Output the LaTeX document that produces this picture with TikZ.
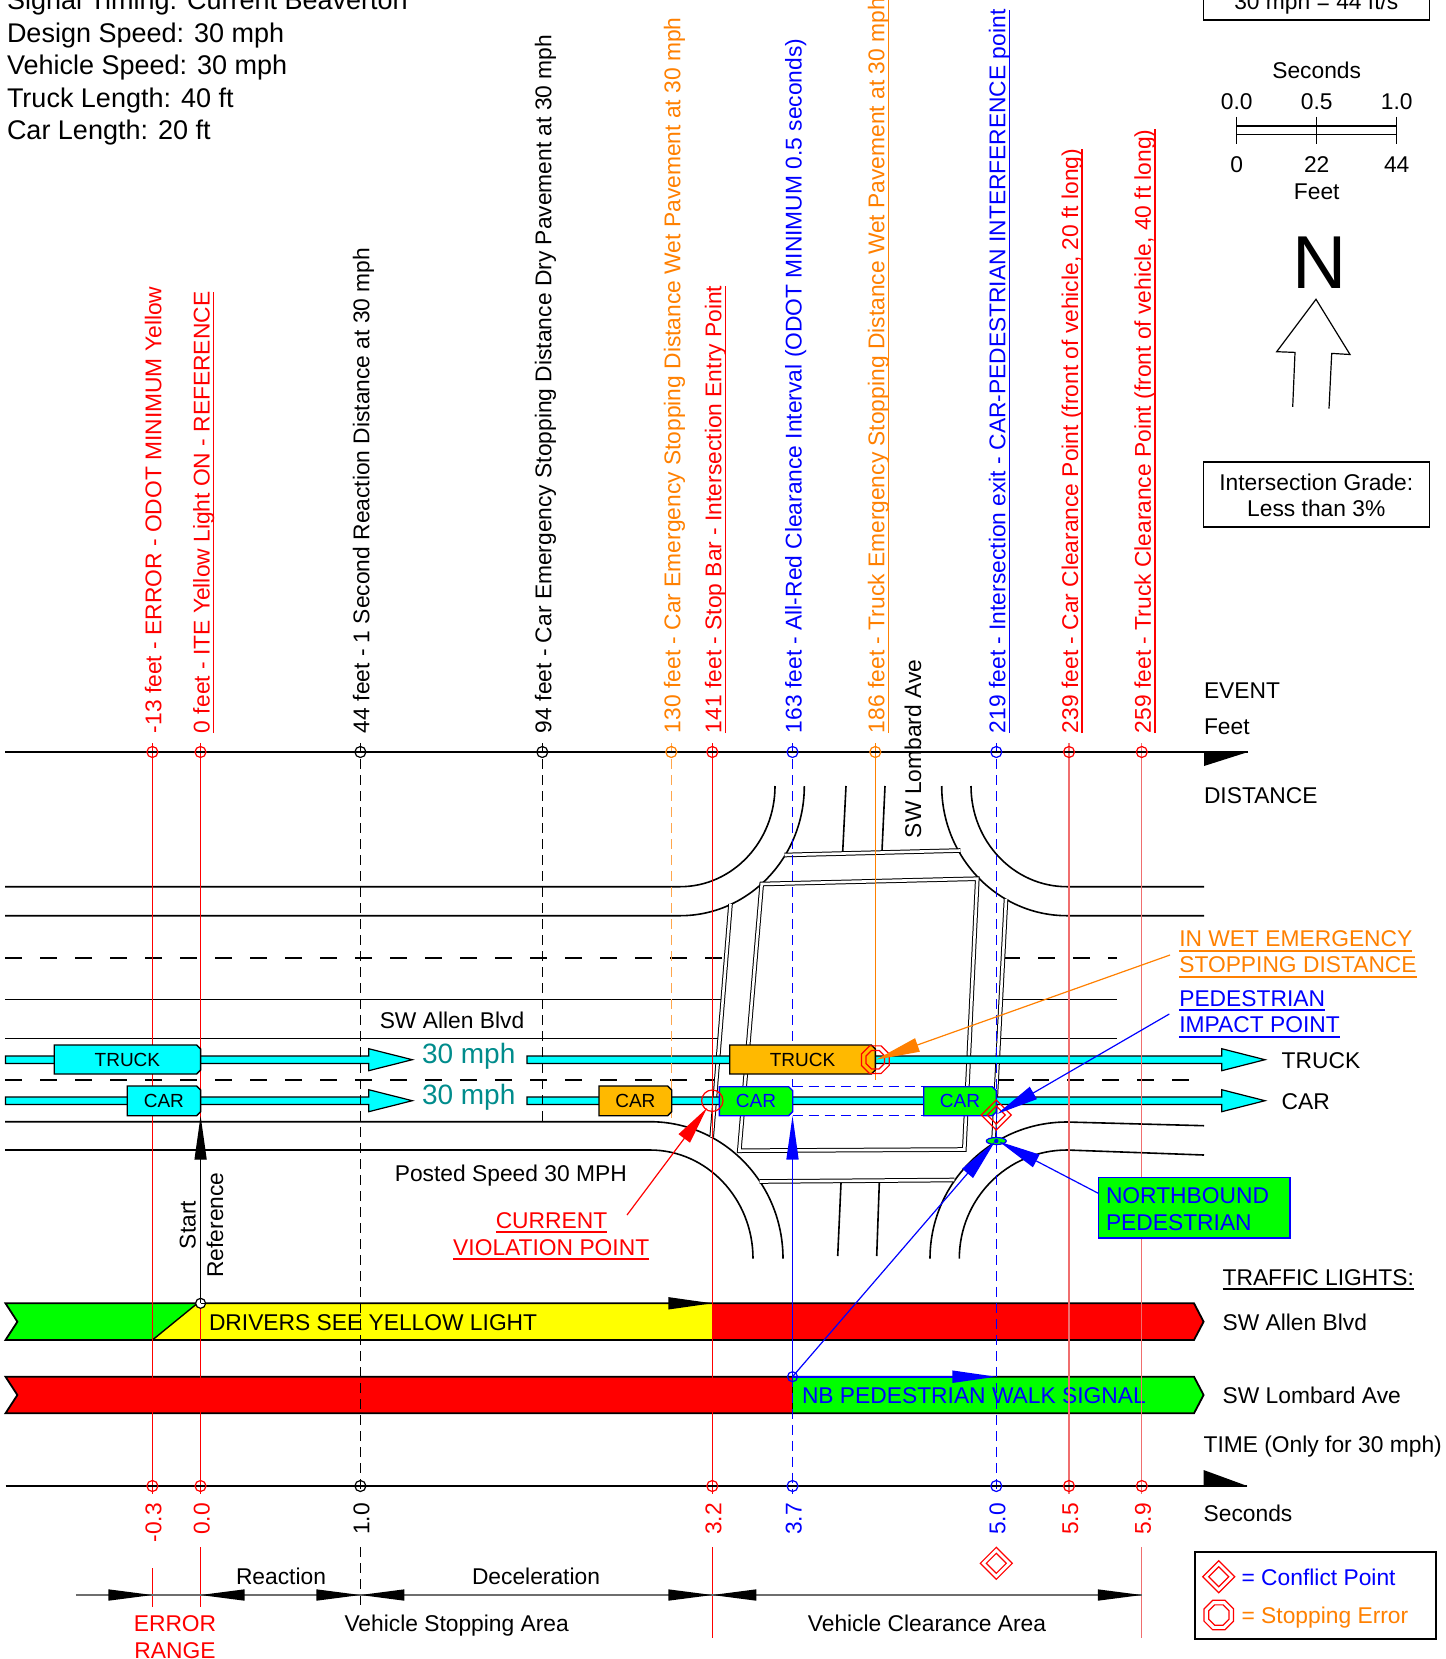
\documentclass[tikz,border=0pt]{standalone}
\usepackage{fontspec}
\setmainfont{Liberation Sans}
\usetikzlibrary{arrows.meta}
\definecolor{orng}{RGB}{255,128,0}
\definecolor{lred}{RGB}{240,110,110}
\definecolor{cyn}{RGB}{0,255,255}
\definecolor{vorange}{RGB}{255,185,0}
\definecolor{grn}{RGB}{0,255,0}
\definecolor{yel}{RGB}{255,255,0}
\definecolor{teal2}{RGB}{0,140,140}
\definecolor{dimgray}{RGB}{110,110,110}
\newcommand\myul[1]{\setbox0\hbox{#1}\rlap{\rule[-2.4pt]{\wd0}{0.8pt}}\box0}
\newcommand\mkocta[3]{\draw[red, line width=0.6pt] (#1,#2) +(22.5:#3) -- +(67.5:#3) -- +(112.5:#3) -- +(157.5:#3) -- +(202.5:#3) -- +(247.5:#3) -- +(292.5:#3) -- +(337.5:#3) -- cycle;}
\newcommand\mkdiam[3]{\draw[red, line width=0.6pt] (#1,#2) +(0,-#3) -- +(#3,0) -- +(0,#3) -- +(-#3,0) -- cycle;}
\newcommand\trR[3]{\fill[#3] (#1,#2) -- ++(-44,-5.7) -- ++(0,11.4) -- cycle;}
\newcommand\trL[3]{\fill[#3] (#1,#2) -- ++(44,-5.7) -- ++(0,11.4) -- cycle;}
\newcommand\lanearrow[4]{\draw[fill=cyn, line width=0.6pt] (#1,#4-3.7) -- (#2,#4-3.7) -- (#2,#4-11) -- (#3,#4) -- (#2,#4+11) -- (#2,#4+3.7) -- (#1,#4+3.7) -- cycle;}
\newcommand\vehbox[9]{\filldraw[fill=#6, draw=#7, line width=0.7pt] (#2,#4) -- (#3-4,#4) -- (#3,#4+4) -- (#3,#5-4) -- (#3-4,#5) -- (#2,#5) -- cycle;
  \node[boxtxt, text=#8] (#1) at ({(#2+#3)/2},{(#4+#5)/2}) {#9};}
\begin{document}
\begin{tikzpicture}[x=0.5pt,y=-0.5pt,
  every node/.style={inner sep=0pt, outer sep=0pt},
  lbl/.style={font=\fontsize{11.4}{13.8}\selectfont},
  hdr/.style={font=\fontsize{13.5}{16.2}\selectfont},
  boxtxt/.style={font=\fontsize{9.5}{11}\selectfont},
  mphtxt/.style={font=\fontsize{14}{16}\selectfont, text=teal2},
  road/.style={line width=0.8pt},
  dbl/.style={draw=black, line width=0.5pt, double=white, double distance=1.3pt},
  lanedash/.style={line width=0.8pt, dash pattern=on 8.5pt off 9pt},
  ev/.style={line width=0.6pt},
  vdash/.style={dash pattern=on 5pt off 3pt},
  tipA/.style={-{Triangle[length=22pt,width=6pt]}},
  tipB/.style={-{Triangle[length=21pt,width=7pt]}}]
\useasboundingbox (0,0) rectangle (1445,1659);
\clip (0,0) rectangle (1445,1659);
\fill[white] (0,0) rectangle (1445,1659);

% ---------------- header ----------------
\node[hdr, anchor=base west] (t0) at (7,10) {Signal Timing: Current Beaverton};
\node[hdr, anchor=base west] (t1) at (7,42.5) {Design Speed: 30 mph};
\node[hdr, anchor=base west] (t2) at (7,75) {Vehicle Speed: 30 mph};
\node[hdr, anchor=base west] (t3) at (7,107.5) {Truck Length: 40 ft};
\node[hdr, anchor=base west] (t4) at (7,140) {Car Length: 20 ft};

% ---------------- top right: scale, north ----------------
\draw[line width=0.8pt] (1203.3,-20) rectangle (1429.3,20);
\node[lbl, anchor=base] (spd) at (1316.3,10) {30 mph = 44 ft/s};
\node[lbl, anchor=base] (sbs) at (1316.7,79) {Seconds};
\node[lbl, anchor=base] (sb00) at (1236.7,110) {0.0};
\node[lbl, anchor=base] (sb05) at (1316.7,110) {0.5};
\node[lbl, anchor=base] (sb10) at (1396.7,110) {1.0};
\draw[line width=0.6pt] (1236.7,126) -- (1396.7,126) (1236.7,134.5) -- (1396.7,134.5);
\draw[line width=0.6pt] (1236.7,117) -- (1236.7,144) (1316.7,117) -- (1316.7,144) (1396.7,117) -- (1396.7,144);
\node[lbl, anchor=base] (sf0) at (1236.7,172) {0};
\node[lbl, anchor=base] (sf22) at (1316.7,172) {22};
\node[lbl, anchor=base] (sf44) at (1396.7,172) {44};
\node[lbl, anchor=base] (sff) at (1316.7,199.5) {Feet};
\node[font=\fontsize{37.5}{40}\selectfont, anchor=base] (north) at (1320,288) {N};
\draw[line width=0.6pt] (1292.7,406.9) -- (1295,352.4) -- (1276.7,351.7) -- (1316,299.3) -- (1350,354.5) -- (1331.7,353.4) -- (1329,408.6);
\draw[line width=0.8pt] (1203.3,462) rectangle (1429.3,527);
\node[lbl, anchor=base] (grade1) at (1316.3,490) {Intersection Grade:};
\node[lbl, anchor=base] (grade2) at (1316.3,516) {Less than 3\%};

% ---------------- roads ----------------
\draw[road] (5,886.7) -- (680,886.7) .. controls (732.5,886.7) and (775,841.6) .. (775,786);
\draw[road] (5,915.7) -- (680,915.7) .. controls (748.7,915.7) and (804.3,857.6) .. (804.3,786);
\draw[road] (971,786) .. controls (971,841.6) and (1014,886.7) .. (1067,886.7) -- (1204,886.7);
\draw[road] (941.7,786) .. controls (941.7,857.6) and (997.8,915.7) .. (1067,915.7) -- (1204,915.7);
\draw[road] (5,1121.7) -- (650,1121.7) .. controls (723.5,1121.7) and (783,1183) .. (783,1258.7);
\draw[road] (5,1150) -- (650,1150) .. controls (706.9,1150) and (753,1198.7) .. (753,1258.7);
\draw[road] (930,1258.7) .. controls (930,1183.2) and (991.3,1122) .. (1067,1122) -- (1204,1125.7);
\draw[road] (959.3,1258.7) .. controls (959.3,1198.7) and (1007.5,1150) .. (1067,1150) -- (1204,1155);
\draw[lanedash] (5,958) -- (726,958);
\draw[road] (5,999.3) -- (722.8,999.3);
\draw[road] (5,1038.3) -- (719.6,1038.3);
\draw[lanedash] (5,1080) -- (716,1080);
\draw[lanedash] (1003,958) -- (1117,958);
\draw[road] (1001,999.3) -- (1117,999.3);
\draw[road] (999,1038.3) -- (1117,1038.3);
\draw[lanedash] (997,1080) -- (1204,1080);
\draw[road] (846,786) -- (842.7,851.5);
\draw[road] (885,786) -- (882,850.7);
\draw[road] (841,1183) -- (837.7,1256);
\draw[road] (879.3,1183) -- (876.7,1256);
\draw[dbl] (784.5,855) -- (960.5,850.5);
\draw[dbl] (759.6,1181.5) -- (954.3,1180);
\draw[dbl] (730.5,904) -- (711.7,1137);
\draw[dbl] (1006,899) -- (993.5,1141);
\draw[dbl] (761.7,884) -- (977.3,878.7) -- (964.3,1149.5) -- (739.3,1150.7) -- cycle;

% ---------------- traffic light bars ----------------
\fill[grn] (5.5,1303.3) -- (197.4,1303.3) -- (152.4,1340) -- (5.5,1340) -- (17.4,1321.7) -- cycle;
\fill[yel] (197.4,1303.3) -- (712.3,1303.3) -- (712.3,1340) -- (152.4,1340) -- cycle;
\fill[red] (712.3,1303.3) -- (1194,1303.3) -- (1203.6,1321.7) -- (1194,1340) -- (712.3,1340) -- cycle;
\draw[line width=0.9pt] (5.5,1303.3) -- (1194,1303.3) -- (1203.6,1321.7) -- (1194,1340) -- (5.5,1340) -- (17.4,1321.7) -- cycle;
\draw[line width=0.7pt] (152.4,1340) -- (197.4,1303.3);
\fill[red] (5.5,1376.7) -- (792.5,1376.7) -- (792.5,1413.3) -- (5.5,1413.3) -- (17.4,1395) -- cycle;
\fill[grn] (792.5,1376.7) -- (1194,1376.7) -- (1203.6,1395) -- (1194,1413.3) -- (792.5,1413.3) -- cycle;
\draw[line width=0.9pt] (5.5,1376.7) -- (1194,1376.7) -- (1203.6,1395) -- (1194,1413.3) -- (5.5,1413.3) -- (17.4,1395) -- cycle;
\draw[line width=0.7pt] (792.5,1376.7) -- (792.5,1413.3);
\node[lbl, anchor=base west] (yellowtxt) at (209,1330) {DRIVERS SEE YELLOW LIGHT};
\node[lbl, anchor=base west, text=blue] (walktxt) at (802,1403) {NB PEDESTRIAN WALK SIGNAL};

% ---------------- lane arrows ----------------
\lanearrow{5.5}{368.7}{412.3}{1059.7}
\lanearrow{527}{1221.7}{1265}{1059.7}
\lanearrow{5.5}{368.7}{412.3}{1100.7}
\lanearrow{527}{1221.7}{1265}{1100.7}
\node[mphtxt] (mph1) at (468.7,1056.7) {30 mph};
\node[mphtxt] (mph2) at (468.7,1097.7) {30 mph};

% ---------------- event lines ----------------
\draw[red, ev] (152.4,743) -- (152.4,1494) (152.4,1568) -- (152.4,1607);
\draw[red, ev] (200.5,743) -- (200.5,1494) (200.5,1547) -- (200.5,1607);
\draw[black, ev, vdash] (360.4,743) -- (360.4,1494) (360.4,1547) -- (360.4,1607);
\draw[black, ev, vdash] (542.3,743) -- (542.3,1122);
\draw[orng!70, ev, vdash] (671.3,743) -- (671.3,1118);
\draw[red, ev] (712.3,743) -- (712.3,1494) (712.3,1547) -- (712.3,1638);
\draw[blue, ev, vdash] (792.5,743) -- (792.5,1086.7) (792.5,1376.7) -- (792.5,1494);
\draw[orng, ev] (875.3,743) -- (875.3,1080);
\draw[blue, ev, vdash] (996.3,743) -- (996.3,1494);
\draw[lred, ev] (1069,743) -- (1069,1494);
\draw[lred, ev] (1141.8,743) -- (1141.8,1494) (1141.8,1547) -- (1141.8,1638);

% ---------------- axes ----------------
\draw[line width=1pt] (5,752) -- (1248,752);
\fill (1204,752) -- (1248,752) -- (1204,766) -- cycle;
\draw[line width=1pt] (5.5,1486) -- (1247,1486);
\fill (1203.6,1470) -- (1247.3,1486) -- (1203.6,1486) -- cycle;
\foreach \xx/\cc in {152.4/red,200.5/red,360.4/black,542.3/black,671.3/orng,712.3/red,792.5/blue,875.3/orng,996.3/blue,1069/red,1141.8/red}
  \draw[\cc, line width=0.6pt] (\xx,752) circle[radius=5.5];
\foreach \xx/\cc in {152.4/red,200.5/red,360.4/black,712.3/red,792.5/blue,996.3/blue,1069/red,1141.8/red}
  \draw[\cc, line width=0.6pt] (\xx,1486) circle[radius=5.5];

% ---------------- dimension line ----------------
\draw[dimgray, line width=1pt] (75.8,1595) -- (1141.8,1595);
\trR{152.4}{1595}{black}
\trL{200.5}{1595}{black}
\trR{360.4}{1595}{black}
\trL{360.4}{1595}{black}
\trR{712.3}{1595}{black}
\trL{712.3}{1595}{black}
\trR{1141.8}{1595}{black}

% ---------------- vehicles ----------------
\vehbox{truckA}{54.2}{200.6}{1045}{1074}{cyn}{black}{black}{TRUCK}
\vehbox{carA}{127.2}{200.6}{1086}{1115.7}{cyn}{black}{black}{CAR}
\vehbox{carB}{599}{671.7}{1086}{1115.7}{vorange}{black}{black}{CAR}
\vehbox{truckB}{729.7}{875.3}{1045}{1074}{vorange}{black}{black}{TRUCK}
\vehbox{carC}{719.3}{792.7}{1086.7}{1115.7}{grn}{blue}{blue}{CAR}
\vehbox{carD}{923.7}{996.3}{1086.7}{1115.7}{grn}{blue}{blue}{CAR}
\draw[blue, ev, vdash] (792.7,1086.7) -- (923.7,1086.7) (792.7,1115.7) -- (923.7,1115.7);

% ---------------- markers ----------------
\draw[red, line width=0.6pt] (712.3,1100.7) circle[radius=10.7];
\mkocta{875.3}{1059.7}{15}
\mkocta{875.3}{1059.7}{10}
\mkdiam{996.3}{1115}{15}
\mkdiam{996.3}{1115}{9}
\mkdiam{996.3}{1563.3}{16}
\mkdiam{996.3}{1563.3}{10}
\filldraw[fill=grn, draw=blue, line width=0.6pt] (996.3,1141) ellipse [x radius=10, y radius=3.5];
\fill[blue] (996.3,1141) circle[radius=2.2];
\filldraw[fill=white, draw=black, line width=0.6pt] (200.6,1303.3) circle[radius=5];
\draw[blue, line width=0.6pt] (792.5,1376.7) circle[radius=5];

% ---------------- connectors ----------------
\coordinate (startref) at (200.6,1303.3);
\coordinate (carArear) at (200.6,1115.7);
\coordinate (walkstart) at (792.5,1376.7);
\coordinate (walkend) at (996.3,1376.7);
\coordinate (yellowend) at (712.3,1303.3);
\coordinate (carCbottom) at (792.5,1115.7);
\coordinate (ped) at (995,1141.5);
\coordinate (ped2) at (999,1141.5);
\coordinate (conflict) at (997,1114);
\coordinate (truckfront) at (876,1059.7);
\coordinate (viol) at (707,1108);
\coordinate (violtxt) at (627,1215);
\coordinate (wetL) at (1170,955);
\coordinate (impL) at (1169.3,1014);
\coordinate (nbL) at (1098.3,1193.3);
\draw[line width=0.7pt, tipA] (startref) -- (yellowend);
\draw[line width=0.7pt, tipA] (startref) -- (carArear);
\draw[blue, line width=1pt, tipA] (walkstart) -- (walkend);
\draw[blue, line width=0.8pt, tipA] (walkstart) -- (carCbottom);
\draw[blue, line width=0.6pt, tipB] (walkstart) -- (ped);
\draw[blue, line width=0.6pt, tipB] (nbL) -- (ped2);
\draw[blue, line width=0.6pt, tipB] (impL) -- (conflict);
\draw[orng, line width=0.6pt, -{Triangle[length=22pt,width=7pt]}] (wetL) -- (truckfront);
\draw[red, line width=0.6pt, -{Triangle[length=19pt,width=7pt]}] (violtxt) -- (viol);

% ---------------- top rotated labels ----------------
\node[lbl, red, rotate=90, anchor=base west] (lm13) at (161.4,733) {-13 feet - ERROR - ODOT MINIMUM Yellow};
\node[lbl, red, rotate=90, anchor=base west] (l0) at (209.5,733) {\myul{0 feet - ITE Yellow Light ON - REFERENCE}};
\node[lbl, black, rotate=90, anchor=base west] (l44) at (369.4,733) {44 feet - 1 Second Reaction Distance at 30 mph};
\node[lbl, black, rotate=90, anchor=base west] (l94) at (551.3,733) {94 feet - Car Emergency Stopping Distance Dry Pavement at 30 mph};
\node[lbl, orng, rotate=90, anchor=base west] (l130) at (680.3,733) {130 feet - Car Emergency Stopping Distance Wet Pavement at 30 mph};
\node[lbl, red, rotate=90, anchor=base west] (l141) at (721.3,733) {\myul{141 feet - Stop Bar - Intersection Entry Point}};
\node[lbl, blue, rotate=90, anchor=base west] (l163) at (801.5,733) {163 feet - All-Red Clearance Interval (ODOT MINIMUM 0.5 seconds)};
\node[lbl, orng, rotate=90, anchor=base west] (l186) at (884.3,733) {\myul{186 feet - Truck Emergency Stopping Distance Wet Pavement at 30 mph}};
\node[lbl, blue, rotate=90, anchor=base west] (l219) at (1005.3,733) {\myul{219 feet - Intersection exit - CAR-PEDESTRIAN INTERFERENCE point}};
\node[lbl, red, rotate=90, anchor=base west] (l239) at (1078,733) {\myul{239 feet - Car Clearance Point (front of vehicle, 20 ft long)}};
\node[lbl, red, rotate=90, anchor=base west] (l259) at (1150.8,733) {\myul{259 feet - Truck Clearance Point (front of vehicle, 40 ft long)}};
\node[lbl, rotate=90, anchor=base west] (lombard) at (921,838) {SW Lombard Ave};

% ---------------- time labels ----------------
\node[lbl, red, rotate=90, anchor=base east] (tm03) at (161.4,1503) {-0.3};
\node[lbl, red, rotate=90, anchor=base east] (t00) at (209.5,1503) {0.0};
\node[lbl, black, rotate=90, anchor=base east] (t10) at (369.4,1503) {1.0};
\node[lbl, red, rotate=90, anchor=base east] (t32) at (721.3,1503) {3.2};
\node[lbl, blue, rotate=90, anchor=base east] (t37) at (801.5,1503) {3.7};
\node[lbl, blue, rotate=90, anchor=base east] (t50) at (1005.3,1503) {5.0};
\node[lbl, red, rotate=90, anchor=base east] (t55) at (1078,1503) {5.5};
\node[lbl, red, rotate=90, anchor=base east] (t59) at (1150.8,1503) {5.9};

% ---------------- right column labels ----------------
\node[lbl, anchor=base west] (event) at (1204,698) {EVENT};
\node[lbl, anchor=base west] (feet) at (1204,734) {Feet};
\node[lbl, anchor=base west] (dist) at (1204,803) {DISTANCE};
\node[lbl, orng, anchor=base west] (wet1) at (1179.3,946.7) {\myul{IN WET EMERGENCY}};
\node[lbl, orng, anchor=base west] (wet2) at (1179.3,972.7) {\myul{STOPPING DISTANCE}};
\node[lbl, blue, anchor=base west] (imp1) at (1179.3,1006) {\myul{PEDESTRIAN}};
\node[lbl, blue, anchor=base west] (imp2) at (1179.3,1032.7) {\myul{IMPACT POINT}};
\node[lbl, anchor=base west] (truckR) at (1281.7,1068) {TRUCK};
\node[lbl, anchor=base west] (carR) at (1281.7,1109) {CAR};
\filldraw[fill=grn, draw=blue, line width=0.8pt] (1098.3,1177.3) rectangle (1290,1237.7);
\node[lbl, blue, anchor=base west] (nb1) at (1106,1203) {NORTHBOUND};
\node[lbl, blue, anchor=base west] (nb2) at (1106,1230) {PEDESTRIAN};
\node[lbl, anchor=base west] (tl) at (1222.6,1285) {\myul{TRAFFIC LIGHTS:}};
\node[lbl, anchor=base west] (allenR) at (1222.6,1330) {SW Allen Blvd};
\node[lbl, anchor=base west] (lombR) at (1222.6,1403) {SW Lombard Ave};
\node[lbl, anchor=base west] (time) at (1203.6,1452) {TIME (Only for 30 mph)};
\node[lbl, anchor=base west] (secs) at (1203.6,1521.5) {Seconds};

% ---------------- road labels ----------------
\node[lbl, anchor=base] (allen) at (452,1028) {SW Allen Blvd};
\node[lbl, anchor=base] (posted) at (510.8,1181) {Posted Speed 30 MPH};
\node[lbl, red, anchor=base] (cur1) at (551.5,1228) {\myul{CURRENT}};
\node[lbl, red, anchor=base] (cur2) at (551.2,1255) {\myul{VIOLATION POINT}};
\node[lbl, rotate=90, align=center] (startreftxt) at (201.5,1225) {Start\\Reference};

% ---------------- bottom labels ----------------
\node[lbl, anchor=base] (reaction) at (281,1584) {Reaction};
\node[lbl, anchor=base] (decel) at (536,1584) {Deceleration};
\node[lbl, anchor=base] (vsa) at (456.7,1631) {Vehicle Stopping Area};
\node[lbl, anchor=base] (vca) at (927,1631) {Vehicle Clearance Area};
\node[lbl, red, anchor=base] (err1) at (175,1631) {ERROR};
\node[lbl, red, anchor=base] (err2) at (175,1658) {RANGE};

% ---------------- legend ----------------
\draw[line width=0.9pt] (1195,1552) rectangle (1436.3,1639);
\mkdiam{1218.8}{1576.7}{16}
\mkdiam{1218.8}{1576.7}{10}
\mkocta{1218.8}{1615}{16}
\mkocta{1218.8}{1615}{11}
\node[lbl, blue, anchor=base west] (leg1) at (1241.6,1585) {= Conflict Point};
\node[lbl, orng, anchor=base west] (leg2) at (1241.6,1623) {= Stopping Error};
\end{tikzpicture}
\end{document}
